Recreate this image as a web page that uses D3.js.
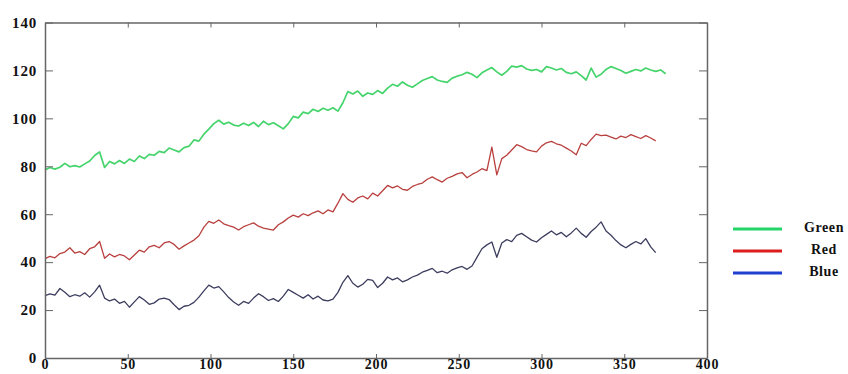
<!DOCTYPE html>
<html>
<head>
<meta charset="utf-8">
<script src="https://cdn.jsdelivr.net/npm/d3@7"></script>
<style>
  body { margin: 0; background: #fff; }
  .axis text { font-family: "Liberation Serif", "Times New Roman", serif; font-weight: bold; font-size: 15px; fill: #111; letter-spacing: 0.8px; }
  .axis.x text { font-size: 14px; }
  .axis path, .axis line { stroke: #666; }
  .axis path { stroke-width: 1.5; }
  .legend text { font-family: "Liberation Serif", "Times New Roman", serif; font-weight: bold; font-size: 14px; fill: #111; letter-spacing: 0.6px; }
</style>
</head>
<body>
<div id="chart"></div>
<script>
// sample spacing on the x axis
const step = 3;

const seriesNames = ['Green', 'Red', 'Blue'];
const xTicks = [0, 50, 100, 150, 200, 250, 300, 350, 400];
const yTicks = [0, 20, 40, 60, 80, 100, 120, 140];

const greenValues = [
  78.5, 79.5, 78.8, 79.6, 81.2, 79.8, 80.3, 79.7, 81.0, 82.2,
  84.5, 86.0, 79.5, 82.0, 81.0, 82.4, 81.2, 83.0, 82.0, 84.3,
  83.2, 85.0, 84.6, 86.2, 85.7, 87.6, 86.8, 86.0, 87.8, 88.4,
  91.0, 90.5, 93.4, 95.5, 97.8, 99.2, 97.6, 98.4, 97.2, 96.8,
  98.0, 97.0, 98.3, 96.6, 98.8, 97.4, 98.2, 96.9, 95.6, 97.8,
  100.8, 100.2, 102.6, 102.0, 103.8, 102.9, 104.2, 103.4, 104.4, 103.0,
  106.5, 111.2, 110.2, 111.4, 109.2, 110.6, 110.0, 111.6, 110.4, 112.6,
  114.2, 113.4, 115.2, 113.8, 113.0, 114.4, 115.8, 116.6, 117.4, 116.0,
  115.4, 115.0, 116.8, 117.6, 118.2, 119.2, 118.4, 117.0, 119.0, 120.2,
  121.2, 119.4, 118.0, 119.6, 121.8, 121.4, 122.0, 120.6, 120.0, 120.4,
  119.4, 121.6, 121.0, 120.2, 120.8, 119.2, 118.6, 119.4, 117.8, 116.0,
  121.0, 117.2, 118.4, 120.4, 121.6, 120.8, 120.0, 118.8, 119.6, 120.4,
  119.8, 121.0, 120.2, 119.6, 120.2, 118.6
];

const redValues = [
  41.5, 42.4, 41.8, 43.6, 44.2, 46.0, 43.8, 44.4, 43.2, 45.6,
  46.4, 48.6, 41.6, 43.4, 42.2, 43.2, 42.6, 41.0, 43.0, 45.0,
  44.2, 46.4, 47.0, 46.0, 48.0, 48.6, 47.4, 45.4, 46.8, 48.0,
  49.2, 51.0, 54.6, 57.0, 56.2, 57.6, 56.0, 55.2, 54.6, 53.4,
  54.8, 55.6, 56.4, 55.0, 54.2, 53.8, 53.4, 55.6, 56.8, 58.4,
  59.6, 58.8, 60.2, 59.4, 60.6, 61.4, 60.2, 61.8, 61.0, 64.6,
  68.6, 66.2, 65.0, 66.8, 67.6, 66.4, 68.8, 67.6, 69.8, 72.0,
  71.0, 71.8, 70.4, 70.0, 71.6, 72.4, 73.0, 74.6, 75.6, 74.4,
  73.4, 75.0, 75.8, 76.8, 77.4, 75.2, 76.6, 77.6, 79.0, 78.2,
  88.0, 76.4, 83.2, 84.6, 86.8, 89.0, 88.2, 87.0, 86.4, 86.0,
  88.4, 89.8, 90.4, 89.4, 88.8, 87.6, 86.4, 84.8, 89.6, 88.6,
  91.2, 93.4, 92.8, 93.0, 92.2, 91.4, 92.6, 92.0, 93.2, 92.4,
  91.6, 92.8, 91.8, 90.6
];

const blueValues = [
  26.0, 26.8, 26.2, 29.0, 27.4, 25.6, 26.4, 25.8, 27.2, 25.4,
  27.6, 30.4, 25.0, 23.8, 24.6, 22.8, 23.6, 21.2, 23.4, 25.6,
  24.2, 22.4, 23.0, 24.6, 25.0, 24.4, 22.2, 20.2, 21.6, 22.0,
  23.2, 25.4, 28.0, 30.4, 29.2, 29.8, 27.6, 25.2, 23.4, 22.0,
  23.6, 22.8, 25.0, 26.8, 25.6, 24.0, 24.8, 23.6, 25.8, 28.6,
  27.4, 26.2, 25.0, 26.4, 24.6, 25.8, 24.2, 23.8, 24.6, 27.4,
  31.6, 34.4, 31.2, 29.6, 30.8, 32.8, 32.4, 29.4, 31.2, 33.8,
  32.6, 33.4, 31.8, 32.6, 33.8, 34.6, 35.8, 36.6, 37.4, 35.6,
  36.2, 35.4, 36.8, 37.6, 38.2, 37.0, 38.4, 42.0, 45.6, 47.2,
  48.4, 42.0, 48.0, 49.4, 48.6, 51.2, 52.0, 50.6, 49.2, 48.4,
  50.2, 51.6, 53.0, 51.4, 52.4, 50.6, 52.2, 54.2, 52.0, 50.4,
  52.8, 54.6, 56.8, 53.0, 51.2, 49.0, 47.2, 46.0, 47.4, 48.6,
  47.6, 49.8, 46.4, 44.0
];

const width = 848;
const height = 374;
const plot = { left: 45, right: 707, top: 22.5, bottom: 358 };

const lineColors = ['#45d46c', '#b8403e', '#3c3d5e'];
const lineWidths = [1.7, 1.3, 1.3];
const legendColors = ['#22d566', '#dd1c1c', '#1f3fd0'];

const svg = d3.select('#chart')
  .append('svg')
  .attr('width', width)
  .attr('height', height);

const x = d3.scaleLinear().domain([0, 400]).range([plot.left, plot.right]);
const y = d3.scaleLinear().domain([0, 140]).range([plot.bottom, plot.top]);

const data = [greenValues, redValues, blueValues].map((vals, k) => ({
  name: seriesNames[k],
  values: vals.map((v, i) => ({ x: i * step, y: v }))
}));

const line = d3.line()
  .x((d) => x(d.x))
  .y((d) => y(d.y));

svg.append('g')
  .attr('class', 'lines')
  .selectAll('path')
  .data(data)
  .enter()
  .append('path')
  .attr('d', (d) => line(d.values))
  .attr('fill', 'none')
  .attr('stroke', (d, i) => lineColors[i])
  .attr('stroke-width', (d, i) => lineWidths[i])
  .attr('stroke-linejoin', 'round');

// box: ticks point inward on all four sides
svg.append('g')
  .attr('class', 'axis x')
  .attr('transform', `translate(0, ${plot.bottom})`)
  .call(d3.axisBottom(x).tickValues(xTicks).tickSizeInner(-4).tickSizeOuter(0).tickPadding(1));

svg.append('g')
  .attr('class', 'axis')
  .attr('transform', `translate(${plot.left}, 0)`)
  .call(d3.axisLeft(y).tickValues(yTicks).tickSizeInner(-8).tickSizeOuter(0).tickPadding(8));

svg.append('g')
  .attr('class', 'axis')
  .attr('transform', `translate(0, ${plot.top})`)
  .call(d3.axisTop(x).tickValues(xTicks).tickSizeInner(-5).tickSizeOuter(0).tickFormat(''));

svg.append('g')
  .attr('class', 'axis')
  .attr('transform', `translate(${plot.right}, 0)`)
  .call(d3.axisRight(y).tickValues(yTicks).tickSizeInner(-8).tickSizeOuter(0).tickFormat(''));

const legend = svg.append('g')
  .attr('class', 'legend')
  .selectAll('g')
  .data(seriesNames)
  .enter()
  .append('g')
  .attr('transform', (d, i) => `translate(0, ${229 + i * 22})`);

legend.append('line')
  .attr('x1', 733)
  .attr('x2', 782)
  .attr('stroke', (d, i) => legendColors[i])
  .attr('stroke-width', 3);

legend.append('text')
  .attr('x', 824)
  .attr('y', 3)
  .attr('text-anchor', 'middle')
  .text((d) => d);
</script>
</body>
</html>
